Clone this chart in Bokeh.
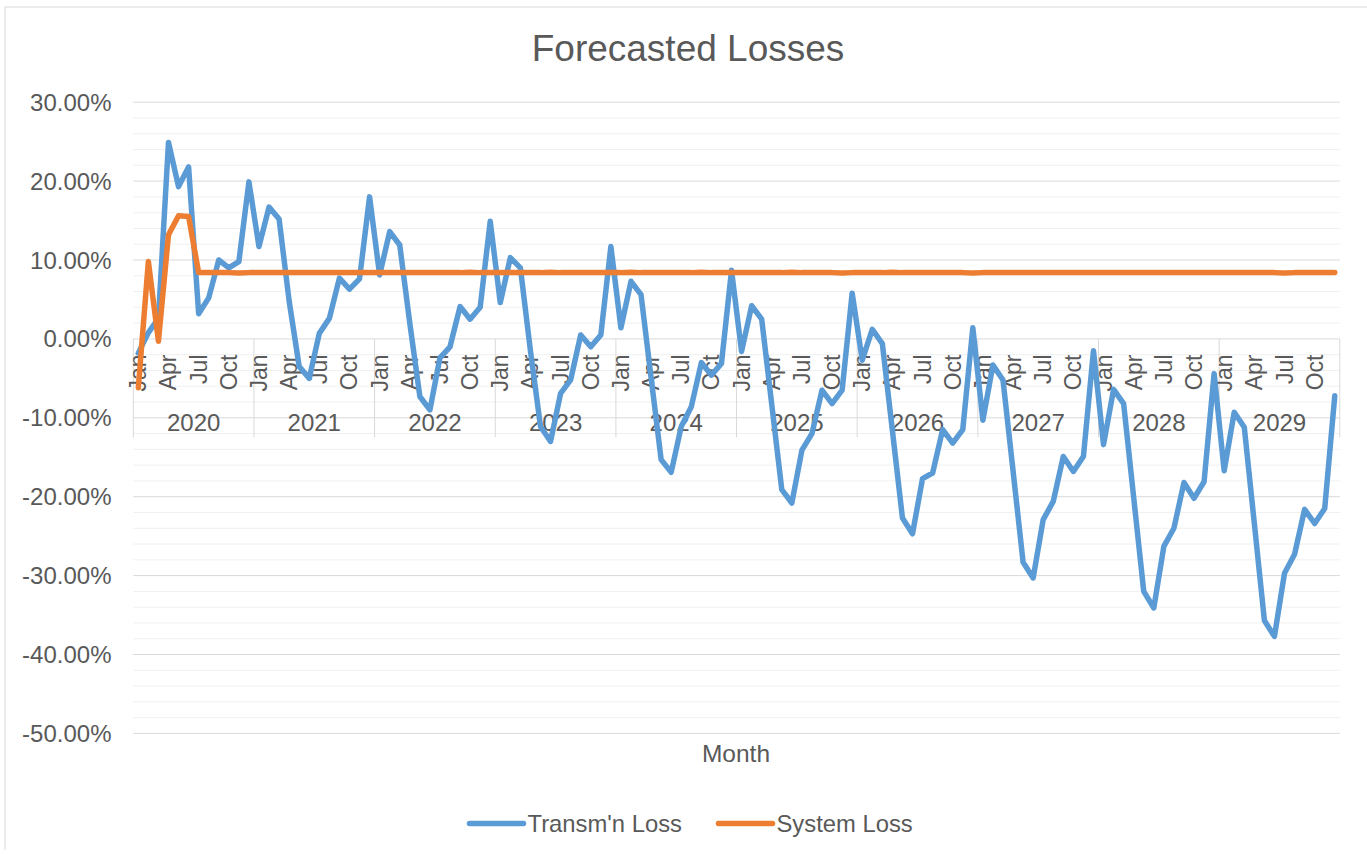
import numpy as np
from bokeh.plotting import figure
from bokeh.models import Range1d
from bokeh.embed import file_html
from bokeh.resources import INLINE
from bokeh.core.properties import value

# ---------------- data ----------------
years = ["2020", "2021", "2022", "2023", "2024", "2025", "2026", "2027", "2028", "2029"]
shown_months = ["Jan", "Apr", "Jul", "Oct"]
shown_month_index = [0, 3, 6, 9]

# Transm'n Loss (%), monthly Jan..Dec per year
transm_loss = [
    -1.8, 0.8, 2.6, 24.9, 19.3, 21.8, 3.2, 5.2, 10.0, 9.0, 9.8, 19.9,          # 2020
    11.7, 16.7, 15.2, 4.8, -3.5, -5.0, 0.7, 2.6, 7.7, 6.3, 7.6, 18.0,          # 2021
    8.1, 13.6, 11.9, 2.0, -7.3, -9.0, -2.4, -1.0, 4.1, 2.5, 4.0, 14.9,         # 2022
    4.6, 10.3, 9.0, -1.5, -11.1, -13.0, -6.9, -5.2, 0.5, -1.0, 0.5, 11.7,      # 2023
    1.4, 7.3, 5.6, -4.9, -15.3, -16.9, -11.1, -8.6, -3.0, -4.6, -3.1, 8.7,     # 2024
    -1.6, 4.2, 2.5, -8.3, -19.1, -20.8, -14.1, -12.0, -6.5, -8.2, -6.5, 5.8,   # 2025
    -2.7, 1.2, -0.6, -11.6, -22.7, -24.7, -17.7, -17.0, -11.5, -13.2, -11.5, 1.4,   # 2026
    -10.3, -3.3, -5.2, -16.7, -28.3, -30.3, -22.9, -20.6, -14.9, -16.8, -14.9, -1.5,  # 2027
    -13.4, -6.4, -8.2, -20.1, -32.0, -34.1, -26.3, -24.0, -18.2, -20.2, -18.1, -4.4,  # 2028
    -16.7, -9.3, -11.2, -23.4, -35.7, -37.7, -29.7, -27.3, -21.6, -23.4, -21.5, -7.2, # 2029
]

# System Loss (%)
system_loss = [
    -6.2, 9.8, -0.3, 13.2, 15.6, 15.5, 8.4, 8.4, 8.4, 8.4, 8.35, 8.4,          # 2020
    8.4, 8.4, 8.4, 8.4, 8.4, 8.4, 8.4, 8.4, 8.4, 8.4, 8.4, 8.4,                # 2021
    8.4, 8.4, 8.4, 8.4, 8.4, 8.4, 8.4, 8.4, 8.4, 8.45, 8.4, 8.4,               # 2022
    8.4, 8.4, 8.4, 8.4, 8.4, 8.45, 8.4, 8.4, 8.4, 8.4, 8.4, 8.4,               # 2023
    8.4, 8.45, 8.4, 8.4, 8.4, 8.4, 8.4, 8.4, 8.45, 8.4, 8.4, 8.4,              # 2024
    8.4, 8.4, 8.4, 8.4, 8.4, 8.45, 8.4, 8.4, 8.4, 8.4, 8.35, 8.4,              # 2025
    8.4, 8.4, 8.4, 8.45, 8.4, 8.4, 8.4, 8.4, 8.4, 8.4, 8.4, 8.35,              # 2026
    8.4, 8.4, 8.4, 8.4, 8.4, 8.4, 8.4, 8.4, 8.4, 8.4, 8.4, 8.4,                # 2027
    8.4, 8.4, 8.4, 8.4, 8.4, 8.4, 8.4, 8.4, 8.4, 8.4, 8.4, 8.4,                # 2028
    8.4, 8.4, 8.4, 8.4, 8.4, 8.4, 8.35, 8.4, 8.4, 8.4, 8.4, 8.4,               # 2029
]

y_ticks = [30, 20, 10, 0, -10, -20, -30, -40, -50]
y_tick_labels = ["30.00%", "20.00%", "10.00%", "0.00%", "-10.00%", "-20.00%",
                 "-30.00%", "-40.00%", "-50.00%"]
y_minor_ticks = [v for v in range(-50, 31, 2) if v % 10 != 0]

title_text = "Forecasted Losses"
x_title = "Month"
series_names = ["Transm'n Loss", "System Loss"]
series_colors = ["#5b9bd5", "#ed7d31"]

# ---------------- layout (pixels) ----------------
W, H = 1367, 850
OFF = 0                     # page offset of the figure
X0, X1 = 132.8, 1339.3      # plot area left/right (page px)
N = len(transm_loss)
MW = (X1 - X0) / N
Y0 = 338.4                  # page y of 0 %
PY = 7.89                   # px per 1 %

def dx(px):
    return (px - X0) / MW

def dy(py):
    return (Y0 - py) / PY

FONT = value("Liberation Sans")
TXT = "#595959"
GRID_MAJ = "#d9d9d9"
GRID_MIN = "#f0f0f0"

p = figure(width=W, height=H,
           x_range=Range1d(dx(OFF), dx(OFF + W)),
           y_range=Range1d(dy(OFF + H), dy(OFF)),
           x_axis_type=None, y_axis_type=None,
           toolbar_location=None, output_backend="svg",
           min_border=0)
p.outline_line_color = None
p.background_fill_color = "white"
p.border_fill_color = "white"

# chart frame (left and top edges)
FL, FT = 4.5, 6.5
p.segment(x0=[dx(FL), dx(FL)], y0=[dy(FT), dy(FT)],
          x1=[dx(FL), dx(OFF + W)], y1=[dy(OFF + H), dy(FT)],
          line_color="#d9d9d9", line_width=1)

# gridlines
p.segment(x0=[0] * len(y_minor_ticks), x1=[N] * len(y_minor_ticks),
          y0=y_minor_ticks, y1=y_minor_ticks, line_color=GRID_MIN, line_width=1)
p.segment(x0=[0] * len(y_ticks), x1=[N] * len(y_ticks),
          y0=y_ticks, y1=y_ticks, line_color=GRID_MAJ, line_width=1)

# y tick labels
p.text(x=[dx(111)] * len(y_ticks), y=y_ticks, text=y_tick_labels,
       text_font=FONT, text_font_size=value("24px"), text_color=TXT,
       text_align="right", text_baseline="middle")

# category axis (crosses at 0): year separators
sep_x = [12 * k for k in range(len(years) + 1)]
p.segment(x0=sep_x, x1=sep_x, y0=[0] * len(sep_x), y1=[dy(437)] * len(sep_x),
          line_color=GRID_MAJ, line_width=1)

# month labels (rotated)
mx, my, mt = [], [], []
for k, _ in enumerate(years):
    for m_name, m_idx in zip(shown_months, shown_month_index):
        mx.append(12 * k + m_idx + 0.5)
        my.append(dy(354))
        mt.append(m_name)
p.text(x=mx, y=my, text=mt, angle=np.pi / 2,
       text_font=FONT, text_font_size=value("23px"), text_color=TXT,
       text_align="right", text_baseline="middle")

# year labels
p.text(x=[12 * k + 6 for k in range(len(years))], y=[dy(422)] * len(years), text=years,
       text_font=FONT, text_font_size=value("24px"), text_color=TXT,
       text_align="center", text_baseline="middle")

# series
xs = [i + 0.5 for i in range(N)]
p.line(xs, transm_loss, line_color=series_colors[0], line_width=5.5,
       line_join="round", line_cap="round")
p.line(xs, system_loss, line_color=series_colors[1], line_width=5.5,
       line_join="round", line_cap="round")

# title and axis title
p.text(x=[dx(687.5)], y=[dy(48)], text=[title_text],
       text_font=FONT, text_font_size=value("37px"), text_color=TXT,
       text_align="center", text_baseline="middle")
p.text(x=[dx(735.5)], y=[dy(753)], text=[x_title],
       text_font=FONT, text_font_size=value("24.5px"), text_color=TXT,
       text_align="center", text_baseline="middle")

# legend
leg_y = dy(823)
p.segment(x0=[dx(469), dx(718)], x1=[dx(523), dx(772)], y0=[leg_y, leg_y], y1=[leg_y, leg_y],
          line_color=series_colors, line_width=5.5, line_cap="round")
p.text(x=[dx(527), dx(776)], y=[leg_y, leg_y], text=series_names,
       text_font=FONT, text_font_size=value("23.8px"), text_color=TXT,
       text_align="left", text_baseline="middle")

open("out.html", "w").write(file_html(p, INLINE))
